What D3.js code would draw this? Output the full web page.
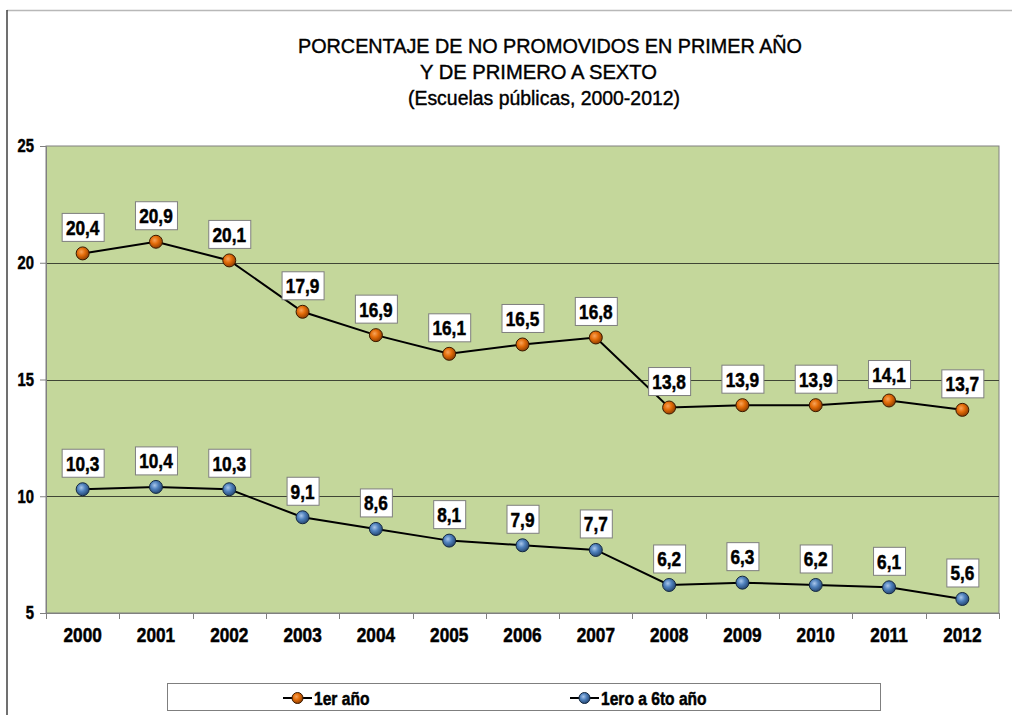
<!DOCTYPE html>
<html>
<head>
<meta charset="utf-8">
<script src="https://cdn.jsdelivr.net/npm/d3@7"></script>
<style>
  body { margin: 0; background: #fff; }
  svg { display: block; }
  .narrow { font-family: "Liberation Sans", Arial, sans-serif; font-weight: bold; stroke: #000; stroke-width: 0.5px; }
</style>
</head>
<body>
<div id="chart"></div>
<script>
var years = ["2000","2001","2002","2003","2004","2005","2006","2007","2008","2009","2010","2011","2012"];
var primerAnio = [20.4, 20.9, 20.1, 17.9, 16.9, 16.1, 16.5, 16.8, 13.8, 13.9, 13.9, 14.1, 13.7];
var primeroSexto = [10.3, 10.4, 10.3, 9.1, 8.6, 8.1, 7.9, 7.7, 6.2, 6.3, 6.2, 6.1, 5.6];
var yTicks = [5, 10, 15, 20, 25];
var seriesNames = ["1er año", "1ero a 6to año"];

var W = 1012, H = 715;
var plot = {left: 46, right: 999, top: 146, bottom: 613};

var svg = d3.select("#chart").append("svg")
  .attr("width", W)
  .attr("height", H)

// squeeze bold Liberation Sans to look like Arial Narrow
function narrow(sel, f) {
  sel.each(function(){
    var len = this.getComputedTextLength()
    d3.select(this).attr("textLength", len * (f || 0.82)).attr("lengthAdjust", "spacingAndGlyphs")
  })
}

// marker gradients
var defs = svg.append("defs")
function grad(id, light, mid, dark) {
  var g = defs.append("radialGradient").attr("id", id)
    .attr("cx", "40%").attr("cy", "38%").attr("r", "65%")
  g.append("stop").attr("offset", "0%").attr("stop-color", light)
  g.append("stop").attr("offset", "45%").attr("stop-color", mid)
  g.append("stop").attr("offset", "100%").attr("stop-color", dark)
}
grad("gOrange", "#f7a35a", "#e36c09", "#8a3b00")
grad("gBlue", "#a9c6ea", "#4f81bd", "#24446e")

var series = [
  {name: seriesNames[0], values: primerAnio, fill: "url(#gOrange)", stroke: "#3a1a00"},
  {name: seriesNames[1], values: primeroSexto, fill: "url(#gBlue)", stroke: "#142840"}
]

// frame lines
svg.append("line").attr("x1", 7).attr("x2", W).attr("y1", 10.5).attr("y2", 10.5)
  .attr("stroke", "#b8b8b8").attr("stroke-width", 1.5)
svg.append("line").attr("x1", 7).attr("x2", 7).attr("y1", 10).attr("y2", H)
  .attr("stroke", "#404040").attr("stroke-width", 1.5)

// title
var title = [
  {t: "PORCENTAJE DE NO PROMOVIDOS EN PRIMER AÑO", x: 298, y: 53, w: 504},
  {t: "Y DE PRIMERO A SEXTO", x: 420, y: 79, w: 237},
  {t: "(Escuelas públicas, 2000-2012)", x: 408, y: 105, w: 272}
]
svg.selectAll(".title").data(title).enter().append("text")
  .attr("class", "title")
  .attr("x", function(d){ return d.x })
  .attr("y", function(d){ return d.y })
  .attr("textLength", function(d){ return d.w })
  .attr("lengthAdjust", "spacingAndGlyphs")
  .style("font-family", "Liberation Sans, Arial, sans-serif")
  .style("font-size", "20px")
  .style("fill", "#000")
  .style("stroke", "#000").style("stroke-width", 0.4)
  .text(function(d){ return d.t })

var x = d3.scaleBand().domain(years).range([plot.left, plot.right])
var y = d3.scaleLinear().domain([5, 25]).range([plot.bottom, plot.top])

// plot area
svg.append("rect")
  .attr("x", plot.left).attr("y", plot.top)
  .attr("width", plot.right - plot.left).attr("height", plot.bottom - plot.top)
  .attr("fill", "#c4d79b")
  .attr("stroke", "#808080")

// gridlines
svg.selectAll(".grid").data(yTicks.slice(1, -1)).enter().append("line")
  .attr("x1", plot.left).attr("x2", plot.right)
  .attr("y1", function(d){ return Math.round(y(d)) + 0.5 })
  .attr("y2", function(d){ return Math.round(y(d)) + 0.5 })
  .attr("stroke", "#3f4535").attr("stroke-width", 1)

// y axis
var yAxis = svg.append("g").attr("transform", "translate(" + plot.left + ",0)")
  .call(d3.axisLeft(y).tickValues(yTicks).tickSize(6).tickPadding(6).tickFormat(d3.format("d")))
yAxis.select(".domain").attr("stroke", "#808080")
yAxis.selectAll(".tick line").attr("stroke", "#808080")
yAxis.selectAll("text").attr("class", "narrow").style("font-size", "18px").attr("fill", "#000")
  .call(narrow)

// x axis: ticks at category boundaries
var xAxis = svg.append("g").attr("transform", "translate(0," + plot.bottom + ")")
  .call(d3.axisBottom(x).tickSize(0).tickPadding(14))
xAxis.select(".domain").attr("stroke", "#808080")
xAxis.selectAll("text").attr("class", "narrow").style("font-size", "21px").attr("fill", "#000")
  .call(narrow)
xAxis.selectAll(".bound").data(years.concat(["end"])).enter().append("line")
  .attr("x1", function(d, i){ return Math.round(plot.left + i * x.step()) + 0.5 })
  .attr("x2", function(d, i){ return Math.round(plot.left + i * x.step()) + 0.5 })
  .attr("y1", 0).attr("y2", 6)
  .attr("stroke", "#808080")

// lines
var line = d3.line()
  .x(function(d, i){ return x(years[i]) + x.bandwidth() / 2 })
  .y(function(d){ return y(d) })

series.forEach(function(s){
  svg.append("path").datum(s.values)
    .attr("d", line)
    .attr("fill", "none")
    .attr("stroke", "#000")
    .attr("stroke-width", 2)

  svg.selectAll(null).data(s.values).enter().append("circle")
    .attr("cx", function(d, i){ return x(years[i]) + x.bandwidth() / 2 })
    .attr("cy", function(d){ return y(d) })
    .attr("r", 6.5)
    .attr("fill", s.fill)
    .attr("stroke", s.stroke)
    .attr("stroke-width", 1)

  // data labels
  var fmt = function(v){ return v.toFixed(1).replace(".", ",") }
  var lbl = svg.selectAll(null).data(s.values).enter().append("g")
    .attr("transform", function(d, i){
      return "translate(" + (x(years[i]) + x.bandwidth() / 2) + "," + (y(d) - 26) + ")"
    })
  var rects = lbl.append("rect")
    .attr("y", -14).attr("height", 28)
    .attr("fill", "#fff").attr("stroke", "#7f7f7f")
  var texts = lbl.append("text")
    .attr("class", "narrow")
    .attr("text-anchor", "middle")
    .attr("y", 7.5)
    .style("font-size", "21px")
    .text(fmt)
  texts.each(function(d, i){
    var w = this.getComputedTextLength() * 0.82
    d3.select(this).attr("textLength", w).attr("lengthAdjust", "spacingAndGlyphs")
    var bw = Math.round(w + 8)
    d3.select(rects.nodes()[i]).attr("x", -Math.round(bw / 2) + 0.5).attr("width", bw)
  })
})

// legend
svg.append("rect")
  .attr("x", 167.5).attr("y", 683.5).attr("width", 713).attr("height", 27)
  .attr("fill", "#fff").attr("stroke", "#7f7f7f")
var legX = [283, 570]
series.forEach(function(s, i){
  var g = svg.append("g").attr("transform", "translate(" + legX[i] + ",698)")
  g.append("line").attr("x1", 0).attr("x2", 29).attr("y1", 0).attr("y2", 0)
    .attr("stroke", "#000").attr("stroke-width", 2)
  g.append("circle").attr("cx", 14.5).attr("cy", 0).attr("r", 5.5)
    .attr("fill", s.fill).attr("stroke", s.stroke)
  g.append("text").attr("class", "narrow").attr("x", 31).attr("y", 6.5)
    .style("font-size", "19px")
    .text(s.name)
    .call(narrow)
})
</script>
</body>
</html>
